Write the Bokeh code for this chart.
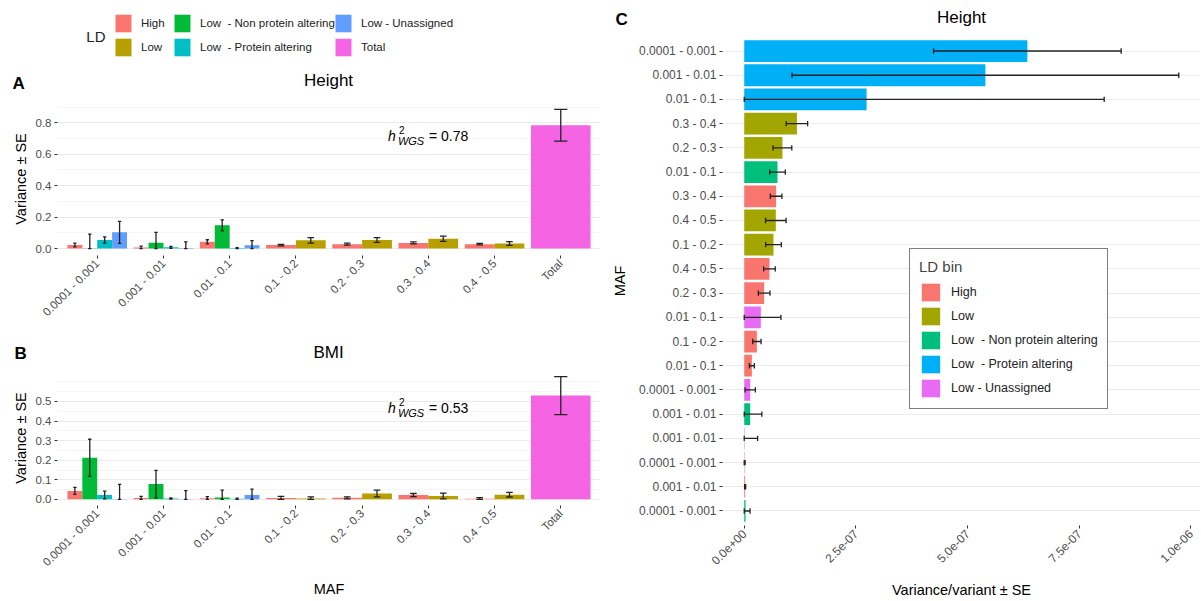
import math
from bokeh.plotting import figure
from bokeh.models import (ColumnDataSource, Range1d, FixedTicker, PrintfTickFormatter,
                          Label, Legend, LegendItem, CDSView, GroupFilter)
from bokeh.layouts import row, column
from bokeh.embed import file_html
from bokeh.resources import INLINE

FONT = "Liberation Sans"
TICK_COLOR = "#4D4D4D"
ERR_COLOR = "#222222"

# ---------------- data: panels A and B ----------------
MAF_BINS = ["0.0001 - 0.001", "0.001 - 0.01", "0.01 - 0.1", "0.1 - 0.2",
            "0.2 - 0.3", "0.3 - 0.4", "0.4 - 0.5", "Total"]
HIGH = "High"
LOW = "Low"
NONPROT = "Low  - Non protein altering"
PROT = "Low  - Protein altering"
UNASS = "Low - Unassigned"
TOTAL = "Total"
LD_AB = [HIGH, LOW, NONPROT, PROT, UNASS, TOTAL]
COLORS_AB = ["#F8766D", "#B79F00", "#00BA38", "#00BFC4", "#619CFF", "#F564E3"]

ab_maf = ["0.0001 - 0.001", "0.0001 - 0.001", "0.0001 - 0.001", "0.0001 - 0.001",
          "0.001 - 0.01", "0.001 - 0.01", "0.001 - 0.01", "0.001 - 0.01",
          "0.01 - 0.1", "0.01 - 0.1", "0.01 - 0.1", "0.01 - 0.1",
          "0.1 - 0.2", "0.1 - 0.2", "0.2 - 0.3", "0.2 - 0.3",
          "0.3 - 0.4", "0.3 - 0.4", "0.4 - 0.5", "0.4 - 0.5", "Total"]
ab_ld = [HIGH, NONPROT, PROT, UNASS,
         HIGH, NONPROT, PROT, UNASS,
         HIGH, NONPROT, PROT, UNASS,
         HIGH, LOW, HIGH, LOW, HIGH, LOW, HIGH, LOW, TOTAL]
height_var = [0.022, 0.002, 0.054, 0.103, 0.007, 0.037, 0.008, 0.003, 0.043, 0.148, 0.003,
              0.021, 0.022, 0.052, 0.028, 0.054, 0.036, 0.062, 0.028, 0.032, 0.784]
height_se = [0.012, 0.090, 0.020, 0.070, 0.008, 0.066, 0.006, 0.040, 0.013, 0.035, 0.003,
             0.030, 0.005, 0.017, 0.006, 0.015, 0.006, 0.017, 0.005, 0.012, 0.101]
bmi_var = [0.043, 0.212, 0.022, 0.002, 0.007, 0.078, 0.004, 0.002, 0.006, 0.009, 0.003,
           0.022, 0.007, 0.005, 0.008, 0.030, 0.022, 0.017, 0.003, 0.024, 0.530]
bmi_se = [0.018, 0.095, 0.020, 0.075, 0.008, 0.070, 0.003, 0.043, 0.008, 0.038, 0.003,
          0.030, 0.008, 0.008, 0.005, 0.017, 0.008, 0.015, 0.006, 0.012, 0.097]
H2_HEIGHT = "0.78"
H2_BMI = "0.53"
A_YTICKS = [0.0, 0.2, 0.4, 0.6, 0.8]
A_YMINOR = [0.1, 0.3, 0.5, 0.7, 0.9]
B_YTICKS = [0.0, 0.1, 0.2, 0.3, 0.4, 0.5]
B_YMINOR = [0.05, 0.15, 0.25, 0.35, 0.45, 0.55, 0.6]

# ---------------- data: panel C ----------------
C_LD_LEVELS = [HIGH, LOW, NONPROT, PROT, UNASS]
COLORS_C = ["#F8766D", "#A3A500", "#00BF7D", "#00B0F6", "#E76BF3"]
c_maf = ["0.0001 - 0.001", "0.001 - 0.01", "0.01 - 0.1", "0.3 - 0.4", "0.2 - 0.3",
         "0.01 - 0.1", "0.3 - 0.4", "0.4 - 0.5", "0.1 - 0.2", "0.4 - 0.5",
         "0.2 - 0.3", "0.01 - 0.1", "0.1 - 0.2", "0.01 - 0.1", "0.0001 - 0.001",
         "0.001 - 0.01", "0.001 - 0.01", "0.0001 - 0.001", "0.001 - 0.01", "0.0001 - 0.001"]
c_ld = [PROT, PROT, PROT, LOW, LOW, NONPROT, HIGH, LOW, LOW, HIGH,
        HIGH, UNASS, HIGH, HIGH, UNASS, NONPROT, UNASS, HIGH, HIGH, NONPROT]
c_var = [6.34e-7, 5.40e-7, 2.74e-7, 1.18e-7, 0.855e-7, 0.745e-7, 0.714e-7, 0.707e-7,
         0.655e-7, 0.565e-7, 0.446e-7, 0.372e-7, 0.283e-7, 0.171e-7, 0.134e-7,
         0.134e-7, 0.01e-7, 0.01e-7, 0.02e-7, 0.03e-7]
c_se = [2.10e-7, 4.33e-7, 5.32e-7, 0.24e-7, 0.21e-7, 0.175e-7, 0.13e-7, 0.23e-7,
        0.175e-7, 0.13e-7, 0.13e-7, 0.45e-7, 0.093e-7, 0.055e-7, 0.115e-7,
        0.26e-7, 0.29e-7, 0.01e-7, 0.012e-7, 0.10e-7]
C_XTICKS = [0.0, 2.5e-7, 5.0e-7, 7.5e-7, 1.0e-6]
C_XTICK_LABELS = ["0.0e+00", "2.5e-07", "5.0e-07", "7.5e-07", "1.0e-06"]


def style_axes(p, tick_size):
    for ax in p.axis:
        ax.axis_line_color = None
        ax.major_tick_out = 3
        ax.major_tick_in = 0
        ax.minor_tick_out = 0
        ax.minor_tick_in = 0
        ax.major_tick_line_color = "#333333"
        ax.major_label_text_font = FONT
        ax.major_label_text_font_size = tick_size
        ax.major_label_text_color = TICK_COLOR
        ax.major_label_standoff = 3
        ax.axis_label_text_font = FONT
        ax.axis_label_text_font_size = "14.5px"
        ax.axis_label_text_font_style = "normal"
        ax.axis_label_text_color = "black"
    p.outline_line_color = None


def strip(width, height):
    s = figure(width=width, height=height, x_range=Range1d(0, 1), y_range=Range1d(0, 1),
               output_backend="svg", toolbar_location=None,
               min_border_left=0, min_border_right=0, min_border_top=0, min_border_bottom=0,
               x_axis_location=None, y_axis_location=None, outline_line_color=None)
    s.frame_align = False
    s.grid.visible = False
    return s


def strip_texts(s, letter, lx, ly, title, tx, ty):
    s.add_layout(Label(x=lx, y=ly, x_units="screen", y_units="screen", text=letter,
                       text_font=FONT, text_font_size="17px", text_font_style="bold",
                       text_color="black", text_baseline="bottom"))
    s.add_layout(Label(x=tx, y=ty, x_units="screen", y_units="screen", text=title,
                       text_font=FONT, text_font_size="17px", text_color="black",
                       text_align="center", text_baseline="bottom"))


def h2_label(p, x, y, value_text):
    common = dict(x=x, y=y, text_font=FONT, text_color="black", text_baseline="alphabetic")
    p.add_layout(Label(text="h", text_font_size="14px", text_font_style="italic", **common))
    p.add_layout(Label(text="2", text_font_size="10px", x_offset=11, y_offset=6, **common))
    p.add_layout(Label(text="WGS", text_font_size="11px", text_font_style="italic",
                       x_offset=10, y_offset=-5, **common))
    p.add_layout(Label(text="= " + value_text, text_font_size="14px", x_offset=41, **common))


def bar_panel(var, se, yticks, yminor, height, top, bottom, h2_text, h2_y, xlabel):
    counts = {m: ab_maf.count(m) for m in MAF_BINS}
    seen = {}
    xs, ws, cl, cr = [], [], [], []
    for m in ab_maf:
        g = MAF_BINS.index(m)
        n = counts[m]
        j = seen.get(m, 0)
        seen[m] = j + 1
        w = 0.9 / n
        x = g - 0.45 + (j + 0.5) * w
        cap = 0.2 / n
        xs.append(x)
        ws.append(w)
        cl.append(x - cap / 2)
        cr.append(x + cap / 2)
    lo = [max(0.0, v - s) for v, s in zip(var, se)]
    hi = [v + s for v, s in zip(var, se)]
    colors = [COLORS_AB[LD_AB.index(l)] for l in ab_ld]
    src = ColumnDataSource(dict(x=xs, w=ws, top=var, lo=lo, hi=hi, cl=cl, cr=cr, color=colors))
    span = max(hi)
    p = figure(width=600, height=height, x_range=Range1d(-0.6, 7.6),
               y_range=Range1d(-0.05 * span, 1.05 * span), output_backend="svg",
               toolbar_location=None, min_border_left=57, min_border_right=0,
               min_border_top=top, min_border_bottom=bottom)
    p.vbar(x="x", width="w", bottom=0, top="top", fill_color="color", line_color=None, source=src)
    p.segment(x0="x", y0="lo", x1="x", y1="hi", line_color=ERR_COLOR, line_width=1.3, source=src)
    p.segment(x0="cl", y0="hi", x1="cr", y1="hi", line_color=ERR_COLOR, line_width=1.3, source=src)
    p.segment(x0="cl", y0="lo", x1="cr", y1="lo", line_color=ERR_COLOR, line_width=1.3, source=src)
    p.xaxis.ticker = FixedTicker(ticks=list(range(len(MAF_BINS))))
    p.xaxis.major_label_overrides = {i: m for i, m in enumerate(MAF_BINS)}
    p.xaxis.major_label_orientation = math.pi / 4
    p.yaxis.ticker = FixedTicker(ticks=yticks, minor_ticks=yminor)
    p.yaxis.formatter = PrintfTickFormatter(format="%.1f")
    p.yaxis.axis_label = "Variance ± SE"
    p.yaxis.axis_label_standoff = 4
    if xlabel:
        p.xaxis.axis_label = xlabel
        p.xaxis.axis_label_standoff = 6
    p.xgrid.visible = False
    p.ygrid.grid_line_color = "#EBEBEB"
    p.ygrid.grid_line_width = 1.1
    p.ygrid.minor_grid_line_color = "#F2F2F2"
    p.ygrid.minor_grid_line_width = 0.8
    style_axes(p, "11.5px")
    h2_label(p, 4.39, h2_y, h2_text)
    return p


# ---------------- top legend + panel A heading ----------------
leg_fig = strip(600, 96)
dummies = [leg_fig.vbar(x=[5.0], top=[5.0], bottom=[4.0], width=0.1, fill_color=c, line_color=None)
           for c in COLORS_AB]
for xpos, idx in [(113, [0, 1]), (172, [2, 3]), (333, [4, 5])]:
    items = [LegendItem(label=LD_AB[i], renderers=[dummies[i]]) for i in idx]
    lg = Legend(items=items, location=(xpos, 38), orientation="vertical",
                glyph_width=20, glyph_height=22, label_height=22, spacing=2,
                padding=0, margin=0, label_standoff=8,
                border_line_color=None, background_fill_alpha=0,
                label_text_font=FONT, label_text_font_size="11.5px", label_text_color="#222222")
    leg_fig.add_layout(lg)
leg_fig.add_layout(Label(x=105, y=60, x_units="screen", y_units="screen", text="LD",
                         text_font=FONT, text_font_size="15px", text_color="#222222",
                         text_align="right", text_baseline="middle"))
strip_texts(leg_fig, "A", 12, 4, "Height", 328, 7)

figA = bar_panel(height_var, height_se, A_YTICKS, A_YMINOR, 234, 6, 75,
                 H2_HEIGHT, 0.719, None)

stripB = strip(600, 36)
strip_texts(stripB, "B", 14, 4, "BMI", 328, 5)

figB = bar_panel(bmi_var, bmi_se, B_YTICKS, B_YMINOR, 234, 4, 94,
                 H2_BMI, 0.465, "MAF")

# ---------------- panel C ----------------
stripC = strip(600, 32)
strip_texts(stripC, "C", 15, 4, "Height", 361, 6)

n = len(c_var)
c_y = [n - i for i in range(n)]
c_lo = [max(0.0, v - s) for v, s in zip(c_var, c_se)]
c_hi = [v + s for v, s in zip(c_var, c_se)]
c_cap_lo = [y - 0.11 for y in c_y]
c_cap_hi = [y + 0.11 for y in c_y]
srcC = ColumnDataSource(dict(y=c_y, val=c_var, lo=c_lo, hi=c_hi, ld=c_ld,
                             cb=c_cap_lo, ct=c_cap_hi))
spanC = max(c_hi)
figC = figure(width=600, height=568, x_range=Range1d(-0.05 * spanC, 1.05 * spanC),
              y_range=Range1d(0.4, n + 0.6), output_backend="svg", toolbar_location=None,
              min_border_left=122, min_border_right=0, min_border_top=4,
              min_border_bottom=75)
for lvl, col in zip(C_LD_LEVELS, COLORS_C):
    figC.hbar(y="y", left=0, right="val", height=0.9, fill_color=col, line_color=None,
              source=srcC, view=CDSView(filter=GroupFilter(column_name="ld", group=lvl)),
              legend_label=lvl)
figC.segment(x0="lo", y0="y", x1="hi", y1="y", line_color=ERR_COLOR, line_width=1.3, source=srcC)
figC.segment(x0="lo", y0="cb", x1="lo", y1="ct", line_color=ERR_COLOR, line_width=1.3, source=srcC)
figC.segment(x0="hi", y0="cb", x1="hi", y1="ct", line_color=ERR_COLOR, line_width=1.3, source=srcC)
figC.xaxis.ticker = FixedTicker(ticks=C_XTICKS)
figC.xaxis.major_label_overrides = {t: l for t, l in zip(C_XTICKS, C_XTICK_LABELS)}
figC.xaxis.major_label_orientation = math.pi / 4
figC.xaxis.axis_label = "Variance/variant ± SE"
figC.xaxis.axis_label_standoff = 10
figC.yaxis.ticker = FixedTicker(ticks=c_y)
figC.yaxis.major_label_overrides = {y: m for y, m in zip(c_y, c_maf)}
figC.yaxis.axis_label = "MAF"
figC.yaxis.axis_label_standoff = 8
figC.xgrid.visible = False
figC.ygrid.grid_line_color = "#EBEBEB"
figC.ygrid.grid_line_width = 1.1
style_axes(figC, "12px")

leg = figC.legend[0]
leg.location = (187, 116)
leg.title = "LD bin"
leg.title_text_font = FONT
leg.title_text_font_size = "15px"
leg.title_text_font_style = "normal"
leg.title_standoff = 6
leg.label_text_font = FONT
leg.label_text_font_size = "12.5px"
leg.label_text_color = "#222222"
leg.glyph_width = 23
leg.glyph_height = 22
leg.label_height = 22
leg.spacing = 2
leg.padding = 9
leg.margin = 0
leg.label_standoff = 9
leg.border_line_color = "black"
leg.border_line_width = 1.2
leg.background_fill_color = "white"
leg.background_fill_alpha = 1.0

layout = row(column(leg_fig, figA, stripB, figB), column(stripC, figC))
open("out.html", "w").write(file_html(layout, INLINE))
